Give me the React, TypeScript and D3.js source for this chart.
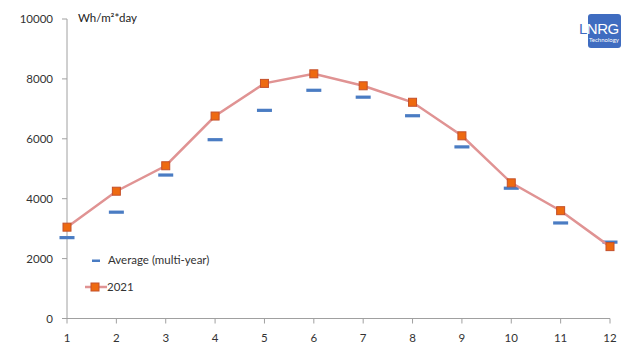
import React from "react";
import * as d3 from "d3";

const months = [1, 2, 3, 4, 5, 6, 7, 8, 9, 10, 11, 12];
const values2021 = [3050, 4250, 5100, 6760, 7850, 8170, 7770, 7220, 6100, 4530, 3600, 2400];
const averageValues = [2700, 3550, 4790, 5970, 6950, 7620, 7390, 6770, 5730, 4350, 3190, 2550];
const yTicks = [0, 2000, 4000, 6000, 8000, 10000];
const unitLabel = "Wh/m²*day";
const legendAverage = "Average (multi-year)";
const legend2021 = "2021";

export default function App() {
  const W = 640, H = 360;
  const x = d3.scaleLinear().domain([1, 12]).range([67, 610]);
  const y = d3.scaleLinear().domain([0, 10000]).range([318.5, 19]);
  const line = d3.line<number>().x((_, i) => x(months[i])).y((d) => y(d));
  const font = "Lato, 'Open Sans', sans-serif";
  const axisColor = "#a0a0a0";
  return (
    <svg width={W} height={H} style={{ position: "absolute", left: 0, top: 0, background: "#fff" }} fontFamily={font}>
      {/* y axis */}
      <line x1={67} x2={67} y1={y(10000)} y2={y(0)} stroke={axisColor} strokeWidth={1} />
      {yTicks.map((t) => (
        <g key={t}>
          <line x1={62} x2={67} y1={y(t)} y2={y(t)} stroke={axisColor} />
          <text x={53} y={y(t)} dy="0.35em" textAnchor="end" fontSize={11.5} fill="#333">{t}</text>
        </g>
      ))}
      {/* x axis */}
      <line x1={67} x2={610} y1={y(0)} y2={y(0)} stroke={axisColor} />
      {months.map((m) => (
        <g key={m}>
          <line x1={x(m)} x2={x(m)} y1={y(0)} y2={y(0) + 5} stroke={axisColor} />
          <text x={x(m)} y={342} textAnchor="middle" fontSize={11.5} fill="#333">{m}</text>
        </g>
      ))}
      <text x={78} y={22} fontSize={11.5} fill="#222">{unitLabel}</text>
      {/* average dashes */}
      {averageValues.map((v, i) => (
        <rect key={i} x={x(months[i]) - 7.5} y={y(v) - 1.6} width={15} height={3.2} fill="#4a7cc3" />
      ))}
      {/* 2021 line */}
      <path d={line(values2021) || ""} fill="none" stroke="#e09393" strokeWidth={2.5} />
      {values2021.map((v, i) => (
        <rect key={i} x={x(months[i]) - 4} y={y(v) - 4} width={8} height={8} fill="#ee6a10" stroke="#c4502a" strokeWidth={1} />
      ))}
      {/* legend */}
      <rect x={92} y={259.5} width={8} height={2.5} fill="#4a7cc3" />
      <text x={108} y={264} fontSize={11.5} fill="#333">{legendAverage}</text>
      <line x1={85} x2={107} y1={287} y2={287} stroke="#e09393" strokeWidth={2.5} />
      <rect x={91} y={283} width={8} height={8} fill="#ee6a10" stroke="#c4502a" />
      <text x={107} y={291} fontSize={11.5} fill="#333">{legend2021}</text>
      {/* logo */}
      <rect x={588} y={14} width={33} height={34} rx={3} fill="#3f6cc0" />
      <text x={579} y={34} fontSize={15} fontFamily="'Liberation Sans', sans-serif" letterSpacing={-0.5}>
        <tspan fill="#3f6cc0">L</tspan><tspan fill="#fff">NRG</tspan>
      </text>
      <text x={589} y={42} fontSize={6} fill="#fff">Technology</text>
    </svg>
  );
}
